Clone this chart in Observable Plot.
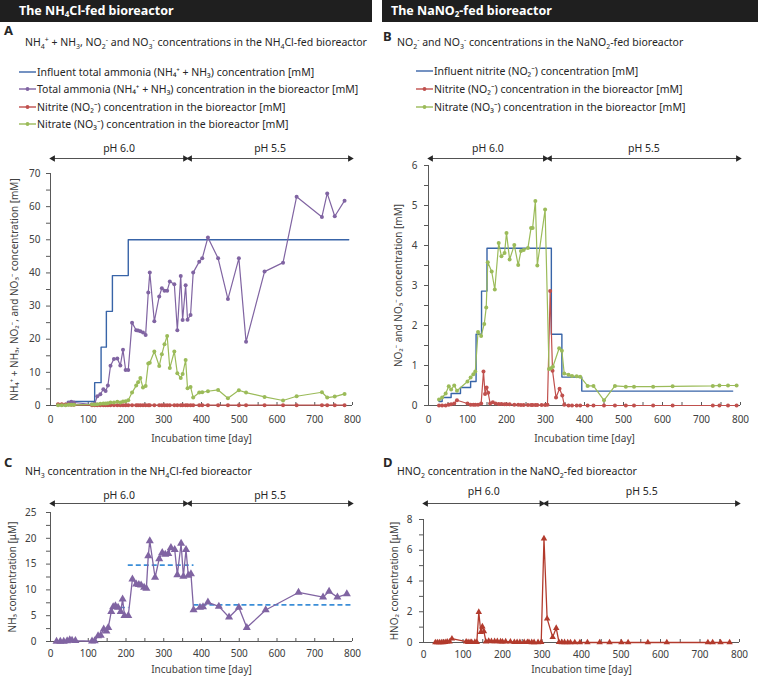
<!DOCTYPE html>
<html><head><meta charset="utf-8">
<script src="https://cdn.jsdelivr.net/npm/d3@7"></script>
<script src="https://cdn.jsdelivr.net/npm/@observablehq/plot@0.6"></script>
<style>
body{margin:0;background:#fff;}
#page{position:relative;width:758px;height:676px;overflow:hidden;font-family:"Noto Sans",sans-serif;color:#262626;}
.hdr{position:absolute;top:0;height:22px;line-height:22px;background:#1f1f1f;color:#fff;font-weight:bold;font-size:12.5px;white-space:nowrap;}
.hdr sub{font-size:8px;vertical-align:-2px;line-height:0}
.letter{position:absolute;font-weight:bold;font-size:13px;line-height:14px;}
.ttl{position:absolute;font-size:10.5px;line-height:14px;white-space:nowrap}
.ttl sub,.ttl sup{font-size:7px;line-height:0}
.lg{position:absolute;font-size:10.5px;line-height:14px;white-space:nowrap;display:flex;align-items:center;}
.plot{position:absolute;}
</style>
</head><body>
<div id="page">
  <div class="hdr" style="left:0;width:353px;padding-left:19px">The NH<sub>4</sub>Cl-fed bioreactor</div>
  <div class="hdr" style="left:382px;width:367px;padding-left:9px">The NaNO<sub>2</sub>-fed bioreactor</div>
  <div class="letter" style="left:4px;top:23px">A</div>
  <div class="letter" style="left:383px;top:29px">B</div>
  <div class="letter" style="left:4px;top:455px">C</div>
  <div class="letter" style="left:383px;top:455px">D</div>
  <div class="ttl" style="left:25px;top:35px">NH<sub>4</sub><sup>+</sup> + NH<sub>3</sub>, NO<sub>2</sub><sup>-</sup> and NO<sub>3</sub><sup>-</sup> concentrations in the NH<sub>4</sub>Cl-fed bioreactor</div>
  <div class="ttl" style="left:397px;top:35px">NO<sub>2</sub><sup>-</sup> and NO<sub>3</sub><sup>-</sup> concentrations in the NaNO<sub>2</sub>-fed bioreactor</div>
  <div class="ttl" style="left:25px;top:464px">NH<sub>3</sub> concentration in the NH<sub>4</sub>Cl-fed bioreactor</div>
  <div class="ttl" style="left:397px;top:464px">HNO<sub>2</sub> concentration in the NaNO<sub>2</sub>-fed bioreactor</div>
</div>
<script>
// ---------- colours ----------
const BLUE = "#3864a8", PURPLE = "#8064a2", RED = "#c0504d", GREEN = "#9bbb59", DRED = "#b23a2c", DASH = "#3b8ed8";
const AXIS = "#595959", INK = "#262626";

// ---------- ticks ----------
const xTicks = [0, 100, 200, 300, 400, 500, 600, 700, 800];
const xMinorTicks = [50, 100, 150, 200, 250, 300, 350, 400, 450, 500, 550, 600, 650, 700, 750, 800];
const yTicksA = [0, 10, 20, 30, 40, 50, 60, 70];
const yMinorA = [0, 5, 10, 15, 20, 25, 30, 35, 40, 45, 50, 55, 60, 65, 70];
const yTicksB = [0, 1, 2, 3, 4, 5, 6];
const yMinorB = [0, 0.5, 1, 1.5, 2, 2.5, 3, 3.5, 4, 4.5, 5, 5.5, 6];
const yTicksC = [0, 5, 10, 15, 20, 25];
const yMinorC = [0, 2.5, 5, 7.5, 10, 12.5, 15, 17.5, 20, 22.5, 25];
const yTicksD = [0, 2, 4, 6, 8];
const yMinorD = [0, 1, 2, 3, 4, 5, 6, 7, 8];

// ---------- pH phases ----------
const phaseLabels = ["pH 6.0", "pH 5.5"];
const phaseStartNH4 = [0, 363];
const phaseEndNH4 = [363, 800];
const phaseStartNO2 = [0, 305];
const phaseEndNO2 = [305, 800];

// ---------- Panel A: NH4Cl-fed reactor [mM] ----------
const aInfDay = [20, 45, 117, 134, 148, 164, 206, 790];
const aInfVal = [0, 1.2, 6.9, 17.6, 28.4, 39.2, 50, 50];
const aDays = [20, 30, 40, 48, 55, 62, 110, 117, 124, 132, 140, 146, 152, 159, 168, 177, 185, 192, 199, 206,
  216, 227, 232, 238, 245, 252, 259, 263, 275, 288, 295, 302, 309, 316, 328, 336, 345, 350, 358, 363, 371, 378,
  394, 402, 417, 444, 470, 499, 518, 567, 616, 652, 719, 733, 753, 779];
const aTotal = [0.2, 0.2, 0.3, 0.8, 1.1, 0.9, 0.3, 0.5, 2.8, 3.4, 4.9, 4.4, 6.0, 12.0, 14.0, 14.2, 12.1, 16.8, 10.7, 10.7,
  25.0, 22.7, 22.6, 22.4, 22.0, 21.3, 34.1, 40.1, 25.4, 32.9, 35.4, 34.6, 34.6, 37.4, 36.6, 22.7, 39.1, 25.8, 36.3, 25.9, 27.3, 40.1,
  43.4, 44.4, 50.7, 44.4, 32.1, 44.4, 19.2, 40.4, 43.1, 63.0, 56.9, 64.0, 57.1, 61.8];
const aNitrite = [0.4, 0.4, 0.3, 0.3, 0.2, 0.2, 0.1, 0.1, 0.1, 0.1, 0.1, 0.1, 0.1, 0.1, 0.1, 0.1, 0.1, 0.1, 0.1, 0.1,
  0.1, 0.1, 0.1, 0.1, 0.1, 0.1, 0.1, 0.1, 0.1, 0.1, 0.1, 0.1, 0.1, 0.1, 0.1, 0.1, 0.1, 0.1, 0.1, 0.1, 0.1, 0.1,
  0.1, 0.1, 0.1, 0.1, 0.1, 0.1, 0.1, 0.1, 0.1, 0.1, 0.1, 0.1, 0.1, 0.1];
const aNitrate = [0.1, 0.1, 0.1, 0.2, 0.2, 0.2, 0.3, 0.3, 0.4, 0.5, 0.6, 0.6, 0.7, 0.9, 0.9, 1.1, 0.9, 1.2, 1.3, 1.6,
  3.9, 6.0, 7.0, 8.3, 5.4, 5.9, 12.7, 12.9, 16.3, 11.9, 15.5, 18.5, 21.0, 11.3, 16.3, 9.7, 8.3, 9.5, 13.7, 5.2, 5.6, 2.4,
  3.9, 4.0, 4.3, 4.7, 2.2, 4.6, 3.9, 2.6, 1.5, 2.8, 4.0, 2.4, 2.7, 3.5];

// ---------- Panel B: NaNO2-fed reactor [mM] ----------
const bInfDay = [27, 35, 58, 82, 108, 122, 136, 150, 315, 342, 393, 780];
const bInfVal = [0.1, 0.2, 0.3, 0.45, 0.6, 1.78, 2.86, 3.93, 1.78, 0.71, 0.36, 0.36];
const bNaDays = [27, 35, 44, 52, 58, 66, 73, 100, 108, 115, 120, 127, 135, 143, 148, 152, 162, 170, 180, 187, 195, 200, 208,
  220, 230, 237, 244, 255, 263, 267, 274, 279, 299, 309, 314, 319, 335, 342, 348, 359, 368, 380, 389,
  408, 423, 450, 478, 506, 527, 576, 626, 729, 746, 768, 790];
const bNitrate = [0.15, 0.2, 0.3, 0.48, 0.4, 0.5, 0.37, 0.6, 0.7, 0.78, 0.85, 1.84, 1.74, 2.04, 2.45, 3.58, 3.35, 2.9, 4.06, 3.73, 3.81, 4.31, 3.65,
  4.01, 3.51, 3.86, 3.89, 3.94, 4.44, 4.44, 5.11, 3.5, 4.9, 0.91, 0.93, 0.97, 1.43, 1.37, 0.8, 0.77, 0.74, 0.73, 0.72,
  0.49, 0.49, 0.13, 0.49, 0.47, 0.47, 0.47, 0.48, 0.49, 0.5, 0.5, 0.5];
const bNiDays = [27, 35, 44, 52, 58, 66, 73, 100, 108, 115, 120, 127, 135, 141, 145, 149, 153, 158, 165, 172, 180, 187, 195, 200, 208,
  220, 230, 237, 244, 255, 263, 267, 274, 279, 290, 299, 305, 312, 318, 327, 336, 343, 348, 359, 368, 380, 389,
  408, 423, 450, 478, 506, 527, 576, 626, 729, 746, 768, 790];
const bNitrite = [0, 0, 0, 0.02, 0.03, 0.05, 0.13, 0.05, 0.02, 0.02, 0.02, 0.02, 0.05, 0.85, 0.29, 0.45, 0.32, 0.05, 0.08, 0.05, 0.04, 0.04, 0.03, 0.03, 0.03,
  0.02, 0.02, 0.01, 0.01, 0.01, 0.01, 0.01, 0.01, 0.01, 0.01, 0.01, 0.02, 2.86, 0.87, 0.2, 0.42, 0.25, 0.02, 0, 0, 0, 0,
  0, 0, 0, 0, 0, 0, 0, 0, 0, 0, 0, 0];

// ---------- Panel C: NH3 [µM] ----------
const cDays = [16, 26, 35, 44, 51, 57, 66, 110, 117, 126, 133, 141, 148, 153, 161, 166, 172, 179, 186, 191, 196, 206,
  217, 227, 234, 240, 248, 254, 259, 263, 277, 288, 296, 304, 312, 319, 329, 336, 346, 352, 359, 365, 372, 379,
  396, 404, 417, 446, 473, 499, 520, 570, 657, 722, 738, 760, 785];
const cNH3 = [0, 0, 0, 0.1, 0.3, 0.2, 0.15, 0.05, 0.1, 1.1, 1.2, 2.4, 2.0, 2.7, 5.8, 6.7, 6.9, 6.6, 5.8, 8.2, 5.0, 5.0,
  12.1, 11.1, 11.0, 10.9, 10.5, 10.3, 16.6, 19.5, 12.4, 16.0, 17.2, 16.9, 17.0, 18.2, 17.8, 12.9, 19.0, 12.6, 17.8, 12.8, 13.1, 6.1,
  6.6, 6.7, 7.6, 6.8, 4.7, 6.6, 2.7, 6.1, 9.5, 8.6, 9.7, 8.6, 9.2];
const cMeanStart = [164, 206, 380];
const cMeanEnd = [208, 380, 800];
const cMeanVal = [6.6, 14.8, 7.1];

// ---------- Panel D: HNO2 [µM] ----------
const dDays = [30, 35, 40, 45, 50, 55, 60, 66, 72, 108, 113, 118, 122, 130, 135, 140, 145, 149, 153, 158,
  165, 172, 180, 187, 195, 200, 208, 220, 230, 237, 244, 255, 263, 267, 274, 280, 290, 298, 305, 313,
  327, 336, 343, 350, 357, 365, 372, 383, 396, 415, 446, 471, 501, 518, 568, 616, 720, 732, 752, 775];
const dHNO2 = [0, 0, 0, 0, 0, 0.02, 0.05, 0.05, 0.25, 0.05, 0.02, 0.02, 0.02, 0.03, 0.02, 1.98, 0.67, 1.04, 0.73, 0.05,
  0.1, 0.08, 0.08, 0.08, 0.06, 0.05, 0.06, 0.05, 0.02, 0.02, 0.02, 0.02, 0.02, 0.02, 0.01, 0.01, 0.01, 0.02, 6.76, 1.55,
  0.35, 0.94, 0.02, 0.01, 0.01, 0, 0, 0, 0, 0, 0, 0, 0, 0, 0, 0, 0, 0, 0, 0];

// ---------- legends ----------
const legendA = ["Influent total ammonia (NH₄⁺ + NH₃) concentration [mM]",
  "Total ammonia (NH₄⁺ + NH₃) concentration in the bioreactor [mM]",
  "Nitrite (NO₂⁻) concentration in the bioreactor [mM]",
  "Nitrate (NO₃⁻) concentration in the bioreactor [mM]"];
const legendAColors = [BLUE, PURPLE, RED, GREEN];
const legendADots = [false, true, true, true];
const legendB = ["Influent nitrite (NO₂⁻) concentration [mM]",
  "Nitrite (NO₂⁻) concentration in the bioreactor [mM]",
  "Nitrate (NO₃⁻) concentration in the bioreactor [mM]"];
const legendBColors = [BLUE, RED, GREEN];
const legendBDots = [false, true, true];

// ---------- helpers ----------
const zip = (xs, ys) => xs.map((d, i) => ({day: d, value: ys[i]}));
const phases = (s, e) => phaseLabels.map((l, i) => ({label: l, start: s[i], end: e[i]}));

function makePlot(c) {
  return Plot.plot({
    width: c.width, height: c.height,
    marginLeft: c.mL, marginRight: c.mR, marginTop: c.mT, marginBottom: c.mB,
    x: {domain: [0, 800]},
    y: {domain: [0, c.yMax]},
    style: {fontFamily: '"Noto Sans", sans-serif', fontSize: "10px", color: "#404040", background: "transparent", overflow: "visible"},
    marks: [
      Plot.axisX({ticks: xTicks, tickSize: 0, tickPadding: c.xPad, label: "Incubation time [day]", labelAnchor: "center", labelOffset: c.xLabelOffset, labelArrow: "none"}),
      Plot.axisY({ticks: c.yMinor, tickFormat: d => c.yTicks.includes(d) ? String(d) : "", tickSize: 4, tickPadding: c.yPad,
        label: c.yLabel, labelAnchor: "center", labelOffset: c.yLabelOffset, labelArrow: "none", stroke: AXIS}),
      Plot.ruleX([0], {stroke: AXIS}),
      Plot.ruleY([0], {stroke: AXIS}),
      Plot.ruleX(xMinorTicks, {x: d => d, y1: 0, y2: 0, insetTop: -3, stroke: AXIS}),
      Plot.ruleY(c.phases, {x1: "start", x2: "end", y: c.yMax, dy: c.arrowDy, insetLeft: 2, insetRight: 2, stroke: INK, strokeWidth: 0.8}),
      Plot.dot(c.phases, {x: "start", y: c.yMax, dy: c.arrowDy, dx: 2.5, symbol: "triangle", rotate: -90, r: 2.4, fill: INK}),
      Plot.dot(c.phases, {x: "end", y: c.yMax, dy: c.arrowDy, dx: -2.5, symbol: "triangle", rotate: 90, r: 2.4, fill: INK}),
      Plot.text(c.phases, {x: d => (d.start + d.end) / 2, y: c.yMax, dy: c.textDy, text: "label", fontSize: 10.5, fill: INK}),
      ...c.marks
    ]
  });
}

const page = document.getElementById("page");
function place(svg, left, top) {
  const wrap = document.createElement("div");
  wrap.className = "plot";
  wrap.style.left = left + "px";
  wrap.style.top = top + "px";
  wrap.appendChild(svg);
  page.appendChild(wrap);
}
function legend(left, centers, names, colors, dots) {
  names.forEach((n, i) => {
    const row = document.createElement("div");
    row.className = "lg";
    row.style.left = left + "px";
    row.style.top = (centers[i] - 7) + "px";
    row.innerHTML = `<svg width="17" height="8" style="margin-right:1px"><line x1="0" x2="17" y1="4" y2="4" stroke="${colors[i]}" stroke-width="1.4"/>` +
      (dots[i] ? `<circle cx="8.5" cy="4" r="1.9" fill="${colors[i]}"/>` : "") + `</svg><span>${n}</span>`;
    page.appendChild(row);
  });
}

// ---------- Panel A ----------
const aInf = zip(aInfDay, aInfVal), aTot = zip(aDays, aTotal), aNi = zip(aDays, aNitrite), aNa = zip(aDays, aNitrate);
place(makePlot({
  width: 380, height: 320, mL: 50, mR: 28, mT: 43, mB: 45, yMax: 70, yTicks: yTicksA, yMinor: yMinorA, yPad: 6, xPad: 10,
  yLabel: "NH₄⁺ + NH₃, NO₂⁻, and NO₃⁻ concentration [mM]", yLabelOffset: 40, xLabelOffset: 36,
  phases: phases(phaseStartNH4, phaseEndNH4), arrowDy: -15, textDy: -25,
  marks: [
    Plot.line(aInf, {x: "day", y: "value", curve: "step-after", stroke: BLUE, strokeWidth: 1.4}),
    Plot.line(aTot, {x: "day", y: "value", stroke: PURPLE, strokeWidth: 1.2}),
    Plot.dot(aTot, {x: "day", y: "value", r: 2, fill: PURPLE}),
    Plot.line(aNi, {x: "day", y: "value", stroke: RED, strokeWidth: 1.2}),
    Plot.dot(aNi, {x: "day", y: "value", r: 2, fill: RED}),
    Plot.line(aNa, {x: "day", y: "value", stroke: GREEN, strokeWidth: 1.2}),
    Plot.dot(aNa, {x: "day", y: "value", r: 2, fill: GREEN})
  ]
}), 0, 130);

// ---------- Panel B ----------
const bInf = zip(bInfDay, bInfVal), bNi = zip(bNiDays, bNitrite), bNa = zip(bNaDays, bNitrate);
place(makePlot({
  width: 378, height: 320, mL: 48, mR: 18, mT: 35, mB: 45, yMax: 6, yTicks: yTicksB, yMinor: yMinorB, yPad: 7, xPad: 10,
  yLabel: "NO₂⁻ and NO₃⁻ concentration [mM]", yLabelOffset: 34, xLabelOffset: 36,
  phases: phases(phaseStartNO2, phaseEndNO2), arrowDy: -7, textDy: -17,
  marks: [
    Plot.line(bInf, {x: "day", y: "value", curve: "step-after", stroke: BLUE, strokeWidth: 1.4}),
    Plot.line(bNi, {x: "day", y: "value", stroke: RED, strokeWidth: 1.2}),
    Plot.dot(bNi, {x: "day", y: "value", r: 2, fill: RED}),
    Plot.line(bNa, {x: "day", y: "value", stroke: GREEN, strokeWidth: 1.2}),
    Plot.dot(bNa, {x: "day", y: "value", r: 2, fill: GREEN})
  ]
}), 380, 130);

// ---------- Panel C ----------
const cData = zip(cDays, cNH3);
const cMeans = cMeanVal.map((v, i) => ({start: cMeanStart[i], end: cMeanEnd[i], value: v}));
place(makePlot({
  width: 380, height: 226, mL: 50, mR: 28, mT: 62, mB: 35, yMax: 25, yTicks: yTicksC, yMinor: yMinorC, yPad: 10, xPad: 8,
  yLabel: "NH₃ concentration [μM]", yLabelOffset: 42, xLabelOffset: 31,
  phases: phases(phaseStartNH4, phaseEndNH4), arrowDy: -9, textDy: -17,
  marks: [
    Plot.ruleY(cMeans, {x1: "start", x2: "end", y: "value", stroke: DASH, strokeWidth: 1.6, strokeDasharray: "5,3"}),
    Plot.line(cData, {x: "day", y: "value", stroke: PURPLE, strokeWidth: 1.3}),
    Plot.dot(cData, {x: "day", y: "value", symbol: "triangle", r: 3, fill: PURPLE})
  ]
}), 0, 450);

// ---------- Panel D ----------
const dData = zip(dDays, dHNO2);
place(makePlot({
  width: 378, height: 226, mL: 43, mR: 19, mT: 69, mB: 34, yMax: 8, yTicks: yTicksD, yMinor: yMinorD, yPad: 7, xPad: 8,
  yLabel: "HNO₂ concentration [μM]", yLabelOffset: 33, xLabelOffset: 30,
  phases: phases(phaseStartNO2, phaseEndNO2), arrowDy: -16, textDy: -27.6,
  marks: [
    Plot.line(dData, {x: "day", y: "value", stroke: DRED, strokeWidth: 1.3}),
    Plot.dot(dData, {x: "day", y: "value", symbol: "triangle", r: 2.4, fill: DRED})
  ]
}), 380, 450);

legend(19, [72, 89, 107, 124], legendA, legendAColors, legendADots);
legend(416, [71, 89, 107], legendB, legendBColors, legendBDots);
</script>
</body></html>
